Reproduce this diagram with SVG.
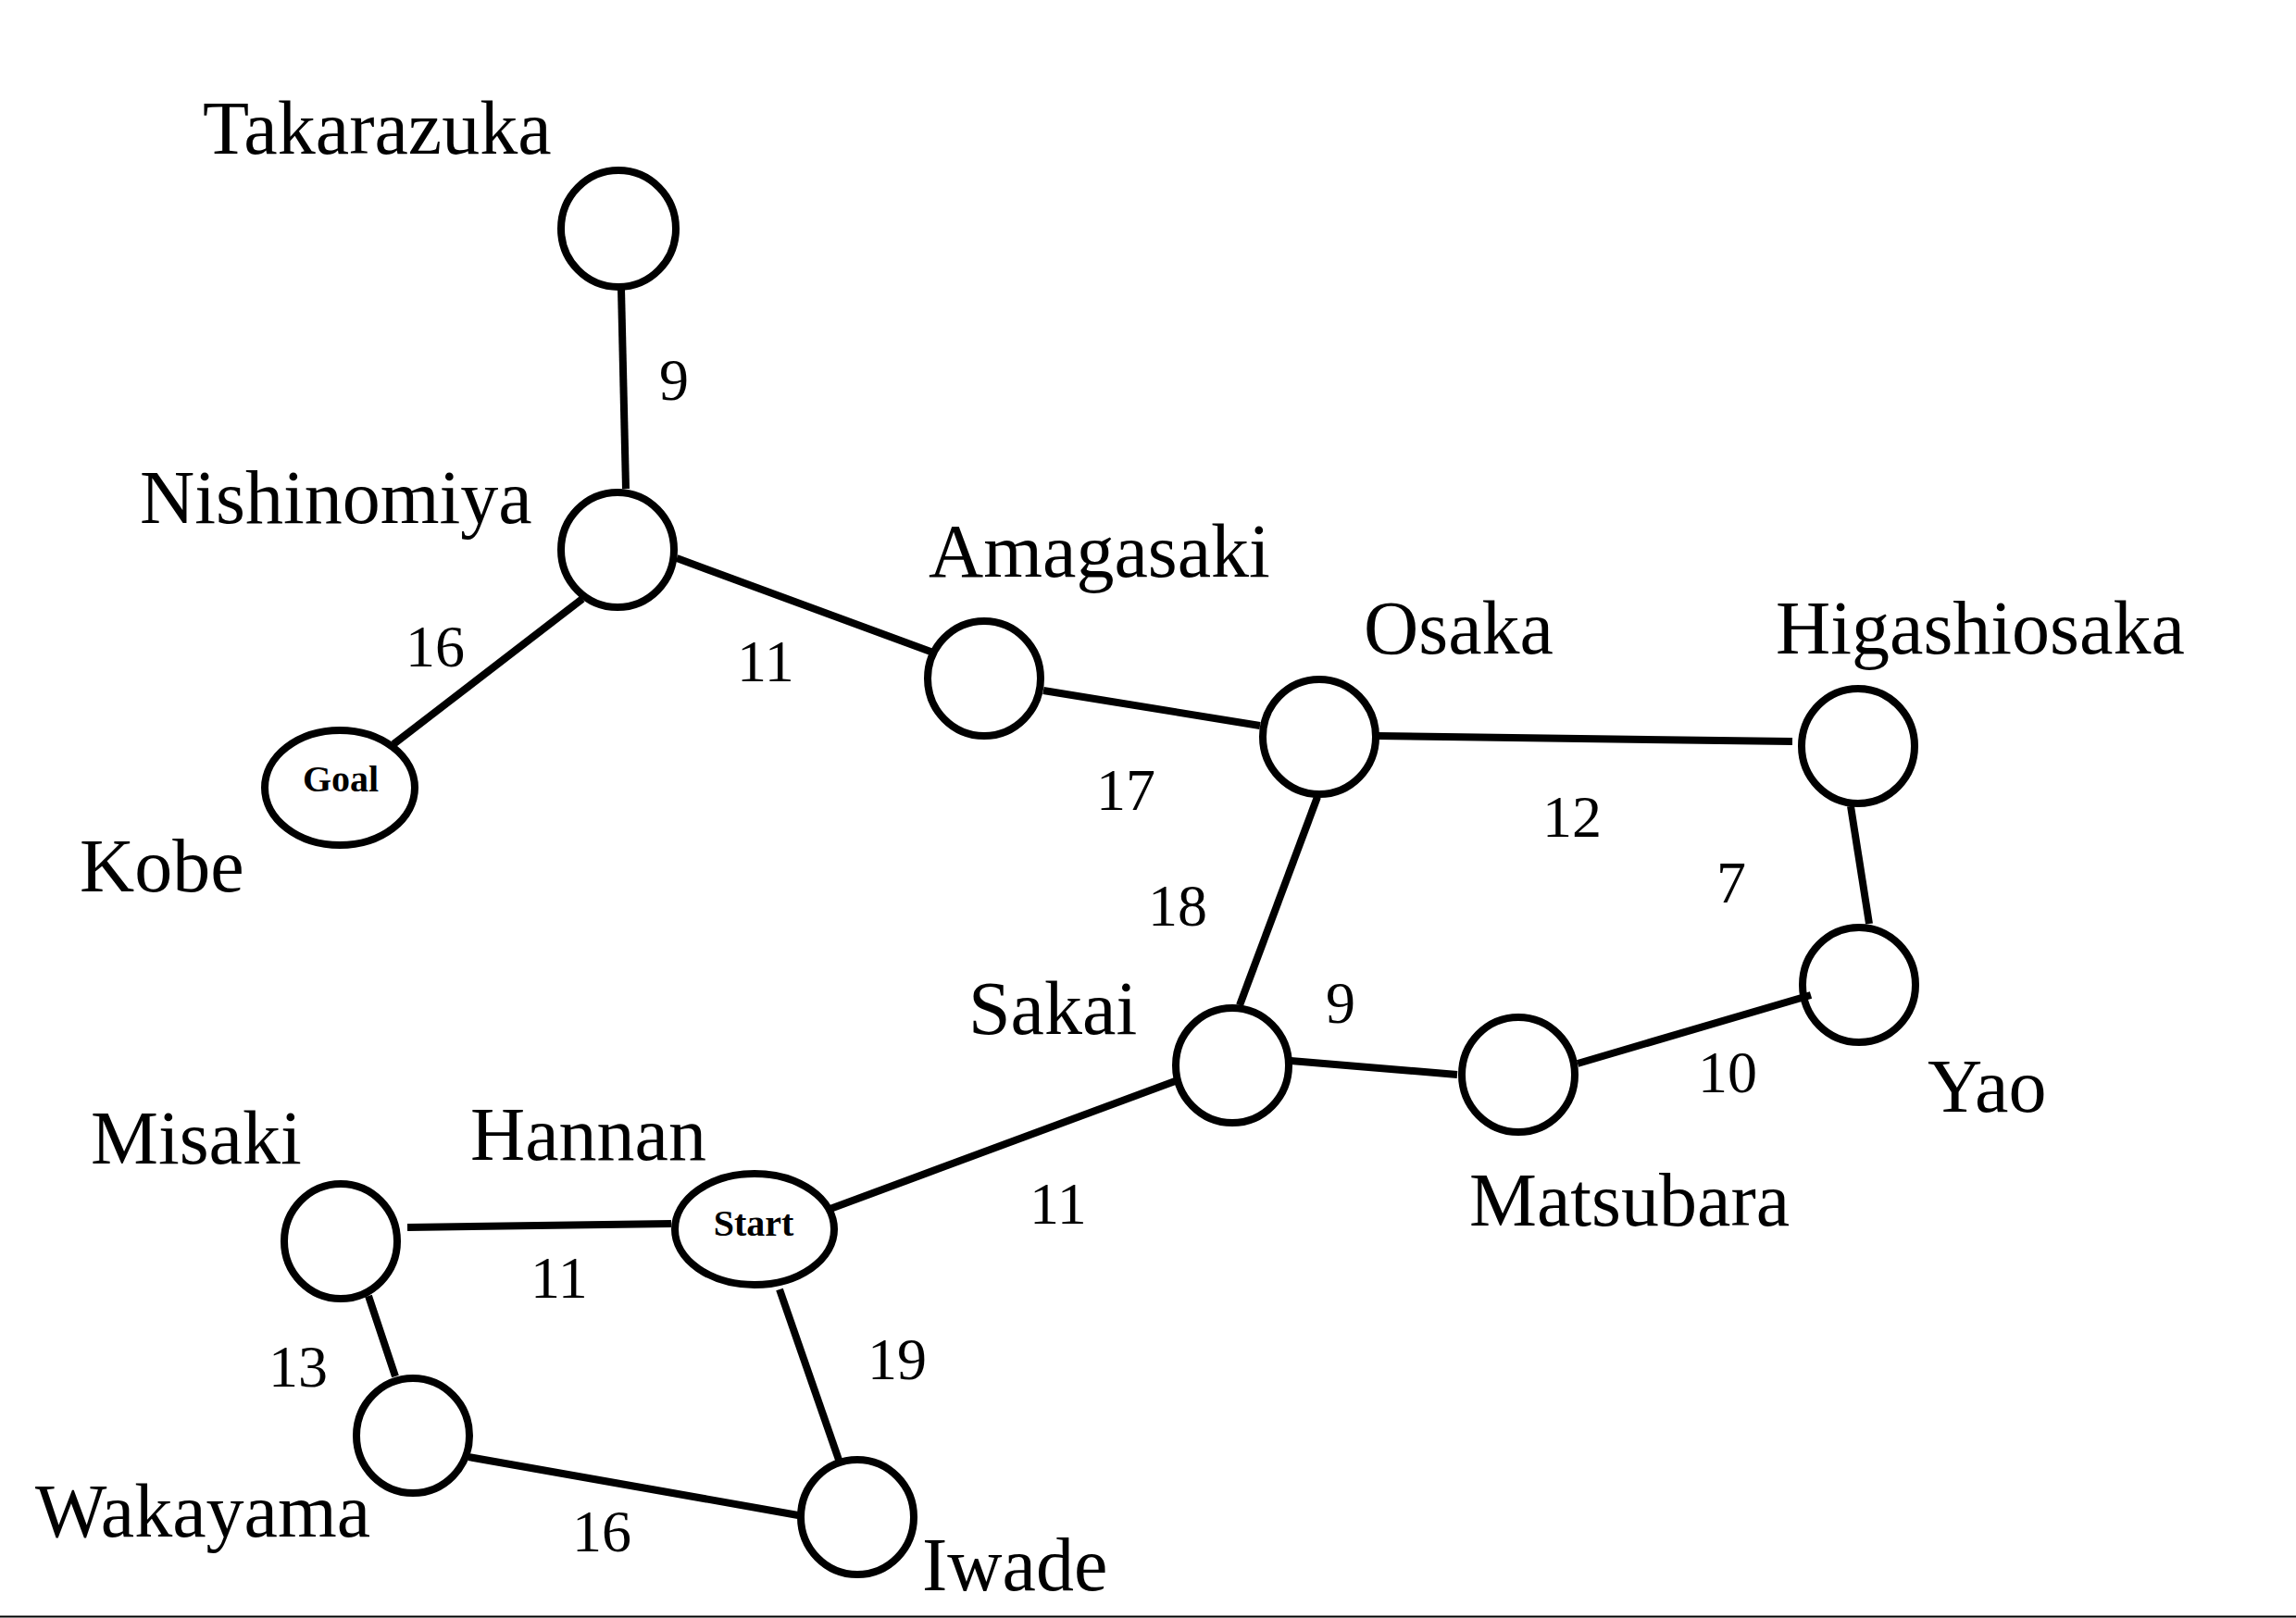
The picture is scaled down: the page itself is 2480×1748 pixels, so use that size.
<svg xmlns="http://www.w3.org/2000/svg" width="2480" height="1748" viewBox="0 0 2480 1748">
<style>
.n{fill:#fff;stroke:#000;stroke-width:8}
.e line{stroke:#000;stroke-width:8;stroke-linecap:butt}
.lbl{font-family:"Liberation Serif","Times New Roman",serif;font-size:82px;fill:#000}
.w{font-family:"Liberation Serif","Times New Roman",serif;font-size:64px;fill:#000}
.tag{font-family:"Liberation Serif","Times New Roman",serif;font-size:40px;font-weight:bold;fill:#000;text-anchor:middle}
</style>
<rect width="2480" height="1748" fill="#fff"/>
<g id="takarazuka"><ellipse class="n" cx="668" cy="247" rx="62" ry="63"/><text class="lbl" x="219" y="166">Takarazuka</text></g>
<g id="nishinomiya"><ellipse class="n" cx="667" cy="594" rx="61" ry="62"/><text class="lbl" x="151" y="565">Nishinomiya</text></g>
<g id="kobe"><ellipse class="n" cx="367" cy="851" rx="81" ry="62"/><text class="tag" x="368" y="855">Goal</text><text class="lbl" x="86" y="963">Kobe</text></g>
<g id="amagasaki"><ellipse class="n" cx="1063" cy="733" rx="61" ry="62"/><text class="lbl" x="1003" y="623">Amagasaki</text></g>
<g id="osaka"><ellipse class="n" cx="1425" cy="796" rx="61" ry="62"/><text class="lbl" x="1473" y="706">Osaka</text></g>
<g id="higashiosaka"><ellipse class="n" cx="2007" cy="806" rx="61" ry="62"/><text class="lbl" x="1918" y="706">Higashiosaka</text></g>
<g id="yao"><ellipse class="n" cx="2008" cy="1064" rx="61" ry="62"/><text class="lbl" x="2082" y="1201">Yao</text></g>
<g id="sakai"><ellipse class="n" cx="1331" cy="1151" rx="61" ry="62"/><text class="lbl" x="1046" y="1117">Sakai</text></g>
<g id="matsubara"><ellipse class="n" cx="1640" cy="1161" rx="61" ry="62"/><text class="lbl" x="1587" y="1324">Matsubara</text></g>
<g id="hannan"><ellipse class="n" cx="815" cy="1328" rx="86" ry="60"/><text class="tag" x="814" y="1335">Start</text><text class="lbl" x="508" y="1253">Hannan</text></g>
<g id="misaki"><ellipse class="n" cx="368" cy="1341" rx="61" ry="62"/><text class="lbl" x="98" y="1257">Misaki</text></g>
<g id="wakayama"><ellipse class="n" cx="446" cy="1551" rx="61" ry="62"/><text class="lbl" x="38" y="1660">Wakayama</text></g>
<g id="iwade"><ellipse class="n" cx="926" cy="1639" rx="61" ry="62"/><text class="lbl" x="996" y="1718">Iwade</text></g>
<g id="connectors" class="e">
<line x1="671" y1="312" x2="676" y2="528"/>
<line x1="629" y1="647" x2="425" y2="804"/>
<line x1="731" y1="603" x2="1008" y2="705"/>
<line x1="1127" y1="746" x2="1361" y2="784"/>
<line x1="1487" y1="795" x2="1936" y2="801"/>
<line x1="1423" y1="861" x2="1339" y2="1086"/>
<line x1="1999" y1="871" x2="2019" y2="998"/>
<line x1="1394" y1="1146" x2="1574" y2="1161"/>
<line x1="1704" y1="1149" x2="1956" y2="1075"/>
<line x1="894" y1="1307" x2="1272" y2="1167"/>
<line x1="440" y1="1326" x2="725" y2="1322"/>
<line x1="398" y1="1400" x2="427" y2="1487"/>
<line x1="506" y1="1574" x2="862" y2="1637"/>
<line x1="842" y1="1393" x2="907" y2="1580"/>
</g>
<g id="weights">
<text class="w" x="712" y="432">9</text>
<text class="w" x="438" y="720">16</text>
<text class="w" x="796" y="736">11</text>
<text class="w" x="1184" y="875">17</text>
<text class="w" x="1666" y="904">12</text>
<text class="w" x="1240" y="1000">18</text>
<text class="w" x="1854" y="975">7</text>
<text class="w" x="1432" y="1105">9</text>
<text class="w" x="1834" y="1180">10</text>
<text class="w" x="1112" y="1322">11</text>
<text class="w" x="573" y="1402">11</text>
<text class="w" x="290" y="1498">13</text>
<text class="w" x="937" y="1490">19</text>
<text class="w" x="618" y="1676">16</text>
</g>
<line x1="0" y1="1746.5" x2="2480" y2="1746.5" stroke="#000" stroke-width="2"/>
</svg>
